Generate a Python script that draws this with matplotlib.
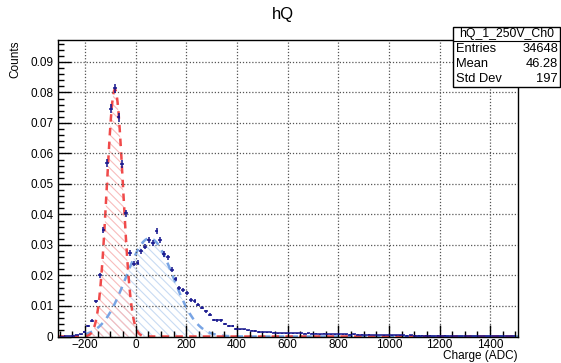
import numpy as np
import matplotlib
matplotlib.use("Agg")
import matplotlib.pyplot as plt
from matplotlib.ticker import MultipleLocator
from matplotlib.patches import Rectangle
from matplotlib.lines import Line2D

plt.rcParams['font.family'] = ['Liberation Sans', 'DejaVu Sans']
plt.rcParams['hatch.linewidth'] = 0.8

# ---- data (normalised histogram, bin width 15 ADC from -300 to 1500) ----
bin_lo = -300.0
bin_width = 15.0
n_entries = 34648
counts = [
    0.0000, 0.0001, 0.0002, 0.0003, 0.0005, 0.0008, 0.0015, 0.0036, 0.0052, 0.0115,   # -292.5 .. -157.5
    0.0201, 0.0348, 0.0570, 0.0747, 0.0814, 0.0719, 0.0566, 0.0404, 0.0274, 0.0238,   # -142.5 .. -7.5
    0.0242, 0.0279, 0.0295, 0.0317, 0.0306, 0.0345, 0.0317, 0.0271, 0.0260, 0.0219,   # 7.5 .. 142.5
    0.0189, 0.0158, 0.0151, 0.0142, 0.0120, 0.0116, 0.0104, 0.0094, 0.0083, 0.0071,   # 157.5 .. 292.5
    0.0055, 0.0053, 0.0053, 0.0042, 0.0035, 0.0036, 0.0024, 0.0023, 0.0023, 0.0020,   # 307.5 .. 442.5
    0.0019, 0.0018, 0.0015, 0.0014, 0.0014, 0.0014, 0.0012, 0.0011, 0.0011, 0.0010,   # 457.5 .. 592.5
    0.0010, 0.0011, 0.0010, 0.0010, 0.0009, 0.0010, 0.0009, 0.0009, 0.0008, 0.0009,   # 607.5 .. 742.5
    0.0008, 0.0008, 0.0007, 0.0008, 0.0007, 0.0007, 0.0006, 0.0007, 0.0006, 0.0006,   # 757.5 .. 892.5
    0.0005, 0.0006, 0.0005, 0.0005, 0.0005, 0.0004, 0.0005, 0.0004, 0.0004, 0.0004,   # 907.5 .. 1042.5
    0.0004, 0.0003, 0.0004, 0.0003, 0.0003, 0.0003, 0.0003, 0.0003, 0.0002, 0.0003,   # 1057.5 .. 1192.5
    0.0002, 0.0003, 0.0002, 0.0002, 0.0002, 0.0002, 0.0002, 0.0002, 0.0001, 0.0002,   # 1207.5 .. 1342.5
    0.0002, 0.0001, 0.0002, 0.0001, 0.0001, 0.0001, 0.0002, 0.0001, 0.0001, 0.0001,   # 1357.5 .. 1492.5
]

# fit parameters (amplitude, mean, sigma)
fit_red = (0.081, -82.0, 32.0)
fit_blue = (0.0322, 55.0, 93.0)

stats_title = "hQ_1_250V_Ch0"
stats_rows = [("Entries", "34648"), ("Mean", "46.28"), ("Std Dev", "197")]

# ---- figure ----
fig = plt.figure(figsize=(5.61, 3.63), dpi=100)
ax = fig.add_axes([57.7 / 561, (363 - 336.5) / 363, (518 - 57.7) / 561, (336.5 - 40) / 363])

counts = np.array(counts)
centers = bin_lo + bin_width * (np.arange(len(counts)) + 0.5)
yerr = np.sqrt(counts * n_entries) / n_entries

xs = np.linspace(-308, 1510, 2000)

def gaus(x, p):
    a, m, s = p
    return a * np.exp(-0.5 * ((x - m) / s) ** 2)

for p, col, hcol in [(fit_blue, '#78a4e4', '#c8dbf3'), (fit_red, '#f04a4a', '#f8bcbc')]:
    y = gaus(xs, p)
    ax.fill_between(xs, 0, y, facecolor='none', edgecolor=hcol, hatch='\\\\\\\\', linewidth=0, zorder=1)
    ax.plot(xs, y, color=col, linestyle=(0, (3, 2.5)), linewidth=1.8, zorder=2)

ax.errorbar(centers, counts, xerr=bin_width / 2, yerr=yerr, fmt='none',
            ecolor='#14148c', elinewidth=1.1, capsize=0, zorder=3)

ax.set_xlim(-308, 1510)
ax.set_ylim(0, 0.0972)

ax.xaxis.set_major_locator(MultipleLocator(200))
ax.xaxis.set_minor_locator(MultipleLocator(50))
ax.yaxis.set_major_locator(MultipleLocator(0.01))
ax.yaxis.set_minor_locator(MultipleLocator(0.002))
ax.yaxis.set_major_formatter(matplotlib.ticker.FuncFormatter(lambda v, p: '0' if abs(v) < 1e-9 else f'{v:.2f}'))

ax.tick_params(axis='both', which='both', direction='in', labelsize=8.5, width=1.0, color='black')
ax.tick_params(axis='x', which='major', length=9, pad=2)
ax.tick_params(axis='x', which='minor', length=4.5)
ax.tick_params(axis='y', which='major', length=9, pad=3)
ax.tick_params(axis='y', which='minor', length=4.5)
ax.tick_params(top=False, right=False)

ax.grid(True, which='major', color='#555555', linestyle=(0, (1, 1.5)), linewidth=0.9)
ax.set_axisbelow(False)
for s in ax.spines.values():
    s.set_linewidth(1.0)

fig.text(283 / 561, 1 - 15 / 363, 'hQ', ha='center', va='center', fontsize=12)
fig.text(518 / 561, 1 - 356.5 / 363, 'Charge (ADC)', ha='right', va='center', fontsize=8.5)
fig.text(15 / 561, 1 - 40 / 363, 'Counts', ha='center', va='top', rotation=90, fontsize=8.5)

# ---- stats box ----
bx0, bx1, by0, by1 = 453, 560, 27, 87
def fx(px):
    return px / 561
def fy(py):
    return 1 - py / 363
fig.patches.append(Rectangle((fx(bx0), fy(by1)), fx(bx1) - fx(bx0), fy(by0) - fy(by1),
                             transform=fig.transFigure, facecolor='white', edgecolor='black',
                             linewidth=1.0, zorder=5))
fig.lines.append(Line2D([fx(bx0), fx(bx1)], [fy(41), fy(41)], transform=fig.transFigure,
                        color='black', linewidth=0.8, zorder=6))
fig.text(fx((bx0 + bx1) / 2), fy(34), stats_title, ha='center', va='center', fontsize=8.8, zorder=7)
for i, (k, v) in enumerate(stats_rows):
    yy = 49 + i * 15
    fig.text(fx(456), fy(yy), k, ha='left', va='center', fontsize=9.3, zorder=7)
    fig.text(fx(558), fy(yy), v, ha='right', va='center', fontsize=9.3, zorder=7)

fig.savefig('out.png', dpi=100)
